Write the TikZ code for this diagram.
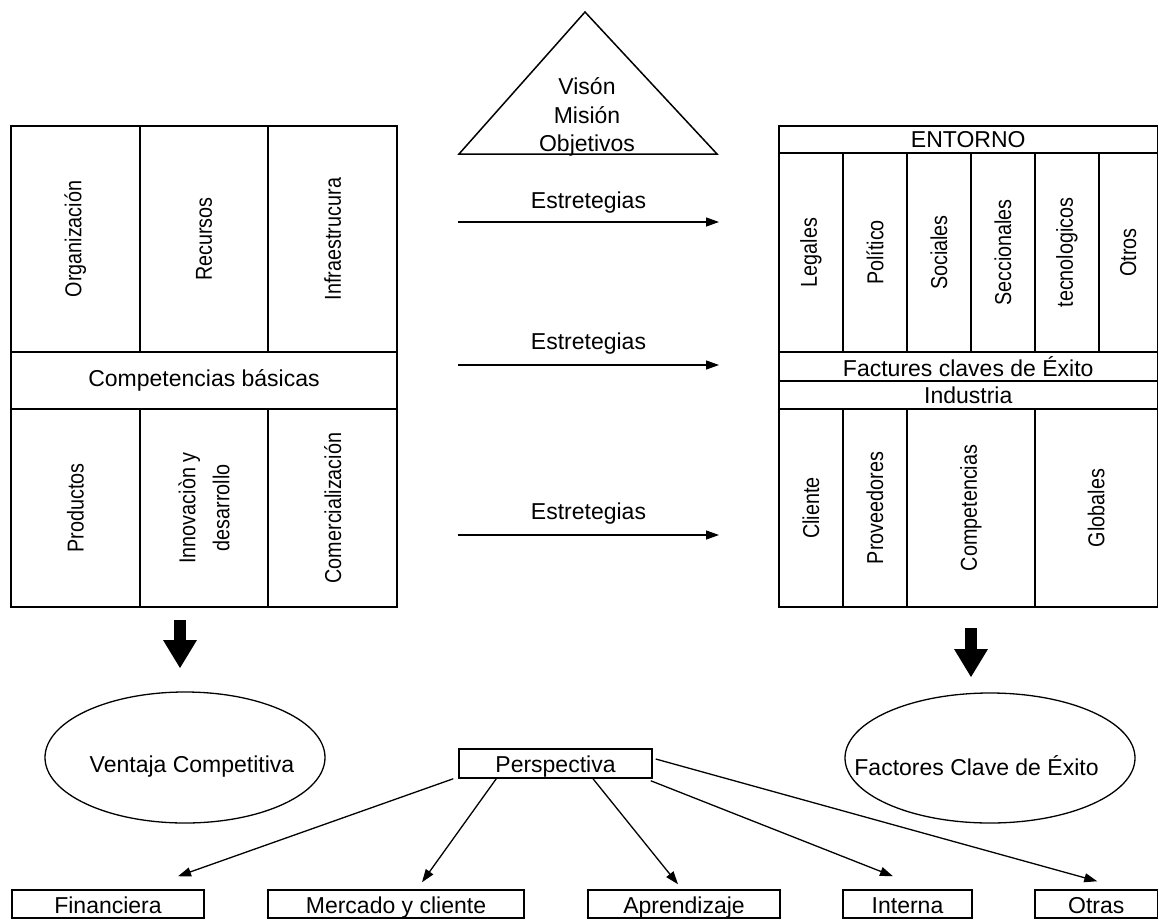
\documentclass[tikz,border=0pt]{standalone}
\usepackage{fontspec}
\setmainfont{Liberation Sans}
\newfontfamily\narrowfont[FakeStretch=0.86]{Liberation Sans}
\usetikzlibrary{arrows.meta, shapes.geometric}

\begin{document}
\begin{tikzpicture}[x=1pt,y=-1pt,>={Triangle[length=13pt,width=9pt]},font=\fontsize{23}{28}\selectfont]
	\tikzstyle{cell}=[draw, line width=1.8pt, inner sep=0pt]
	\tikzstyle{vcell}=[cell, rotate=90, align=center, font=\narrowfont\fontsize{23}{28}\selectfont]
	\tikzstyle{oval}=[draw, ellipse, line width=1.3pt, inner sep=0pt]
	\tikzstyle{tag}=[draw, line width=1.5pt, inner sep=0pt, minimum height=28pt, text height=22pt, text depth=4pt]
	\tikzstyle{link}=[->, line width=1.3pt]
	\tikzstyle{bigdown}=[line width=12pt, -{Triangle[length=28pt,width=34pt,line width=0pt]}]

	\path[use as bounding box, fill=white] (0,0) rectangle (1159,919);

	% vision triangle
	\draw[line width=1.5pt] (459,154) -- (585,12) -- (717,154) -- cycle;
	\node[align=center, font=\fontsize{23}{28.5}\selectfont] (vmo) at (587,117) {Visón\\Misión\\Objetivos};

	% internal side
	\node [vcell, minimum width=226pt, minimum height=128.67pt] (org) at (75.33,239) {Organización};
	\node [vcell, minimum width=226pt, minimum height=128.67pt] (rec) at (204,239) {Recursos};
	\node [vcell, minimum width=226pt, minimum height=128.67pt] (inf) at (332.67,239) {Infraestrucura};
	\node [cell, minimum width=386pt, minimum height=57pt] (comp) at (204,380.5) {Competencias básicas};
	\node [vcell, minimum width=198pt, minimum height=128.67pt] (prod) at (75.33,508) {Productos};
	\node [vcell, minimum width=198pt, minimum height=128.67pt] (innov) at (204,508) {Innovaciòn y\\[6pt]desarrollo};
	\node [vcell, minimum width=198pt, minimum height=128.67pt] (comer) at (332.67,508) {Comercialización};

	% external side
	\node [cell, minimum width=378.5pt, minimum height=27pt] (ent) at (968.25,139.5) {ENTORNO};
	\node [vcell, minimum width=199pt, minimum height=64pt] (leg) at (811,252.5) {Legales};
	\node [vcell, minimum width=199pt, minimum height=64pt] (pol) at (875,252.5) {Político};
	\node [vcell, minimum width=199pt, minimum height=64pt] (soc) at (939,252.5) {Sociales};
	\node [vcell, minimum width=199pt, minimum height=64pt] (sec) at (1003,252.5) {Seccionales};
	\node [vcell, minimum width=199pt, minimum height=64pt] (tec) at (1067,252.5) {tecnologicos};
	\node [vcell, minimum width=199pt, minimum height=58.5pt] (otros) at (1128.25,252.5) {Otros};
	\node [cell, minimum width=378.5pt, minimum height=29pt] (fce) at (968.25,366.5) {Factures claves de Éxito};
	\node [cell, minimum width=378.5pt, minimum height=28pt] (ind) at (968.25,395) {Industria};
	\node [vcell, minimum width=198pt, minimum height=64pt] (cli) at (811,508) {Cliente};
	\node [vcell, minimum width=198pt, minimum height=64pt] (prov) at (875,508) {Proveedores};
	\node [vcell, minimum width=198pt, minimum height=128pt] (compe) at (971,508) {Competencias};
	\node [vcell, minimum width=198pt, minimum height=122.5pt] (glob) at (1096.25,508) {Globales};

	% strategies
	\coordinate (s1) at (458,222);
	\coordinate (e1) at (719,222);
	\coordinate (s2) at (458,365);
	\coordinate (e2) at (719,365);
	\coordinate (s3) at (458,535);
	\coordinate (e3) at (719,535);
	\draw[link] (s1) -- node[anchor=base, yshift=14pt, inner sep=0pt] (est1) {Estretegias} (e1);
	\draw[link] (s2) -- node[anchor=base, yshift=16pt, inner sep=0pt] (est2) {Estretegias} (e2);
	\draw[link] (s3) -- node[anchor=base, yshift=16pt, inner sep=0pt] (est3) {Estretegias} (e3);

	% results
	\coordinate (la) at (180,620);
	\coordinate (lb) at (180,668);
	\coordinate (ra) at (971,628);
	\coordinate (rb) at (971,677);
	\draw[bigdown] (la) -- (lb);
	\draw[bigdown] (ra) -- (rb);

	\node [oval, minimum width=280pt, minimum height=131pt] (vc) at (185,757.5) {};
	\node (vctxt) at ([xshift=7pt,yshift=-9pt]vc.center) {Ventaja Competitiva};
	\node [oval, minimum width=290pt, minimum height=130pt] (fcx) at (990,758) {};
	\node (fcxtxt) at ([xshift=-13.5pt,yshift=-8pt]fcx.center) {Factores Clave de Éxito};

	% perspectives
	\node [tag, minimum width=193pt, minimum height=29pt] (ps) at (555.5,763.5) {Perspectiva};
	\node [tag, minimum width=192pt] (fin) at (108,904) {Financiera};
	\node [tag, minimum width=256pt] (mer) at (396,904) {Mercado y cliente};
	\node [tag, minimum width=192pt] (apr) at (684,904) {Aprendizaje};
	\node [tag, minimum width=129pt] (int) at (907.5,904) {Interna};
	\node [tag, minimum width=122.5pt] (otr) at (1096.25,904) {Otras};

	\draw[link] ([xshift=-5pt]ps.south west) -- ([xshift=70pt,yshift=13pt]fin.north);
	\draw[link] ([xshift=38pt]ps.south west) -- ([xshift=26pt,yshift=7pt]mer.north);
	\draw[link] ([xshift=37.5pt]ps.south) -- ([xshift=-6pt,yshift=5pt]apr.north);
	\draw[link] ([xshift=-2pt,yshift=-2pt]ps.south east) -- ([xshift=-14.5pt,yshift=13pt]int.north);
	\draw[link] ([xshift=3pt,yshift=4.5pt]ps.east) -- ([xshift=1pt,yshift=8pt]otr.north);
\end{tikzpicture}
\end{document}
